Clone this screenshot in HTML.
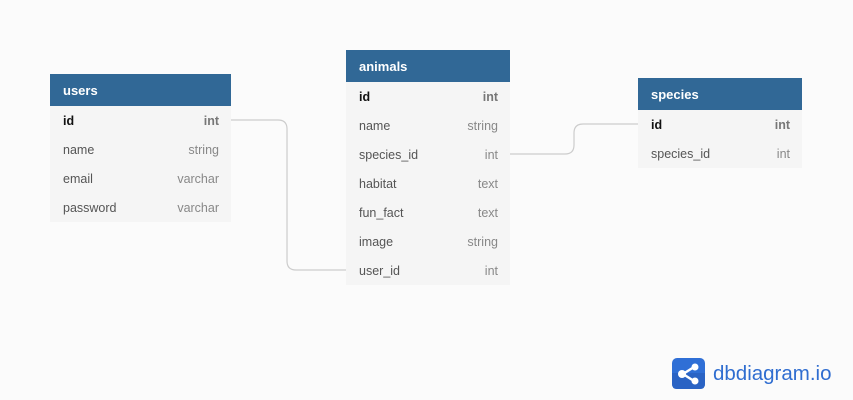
<!DOCTYPE html>
<html><head><style>
body{margin:0;width:853px;height:400px;background:#fbfbfb;font-family:"Liberation Sans",sans-serif;position:relative;overflow:hidden}
.t{position:absolute;background:#f5f5f5}
.h{background:#316896;color:#fff;font-weight:bold;font-size:13px;height:32px;line-height:33px;padding-left:13px}
.r{height:29px;line-height:31px;font-size:12.5px;color:#555;padding:0 12px 0 13px;display:flex;justify-content:space-between}
.r span:last-child{color:#888}
.r.pk span:first-child{color:#111;font-weight:bold}
.r.pk span:last-child{font-weight:bold;color:#777}
</style></head><body>
<svg width="853" height="400" style="position:absolute;left:0;top:0">
<path d="M231 120 H278 Q287 120 287 129 V261 Q287 270 296 270 H346" fill="none" stroke="#ccc" stroke-width="1.2"/>
<path d="M510 154 H565 Q574 154 574 145 V133 Q574 124 583 124 H638" fill="none" stroke="#ccc" stroke-width="1.2"/>
</svg>
<div class="t" style="left:50px;top:74px;width:181px">
<div class="h">users</div>
<div class="r pk"><span>id</span><span>int</span></div>
<div class="r"><span>name</span><span>string</span></div>
<div class="r"><span>email</span><span>varchar</span></div>
<div class="r"><span>password</span><span>varchar</span></div>
</div>
<div class="t" style="left:346px;top:50px;width:164px">
<div class="h">animals</div>
<div class="r pk"><span>id</span><span>int</span></div>
<div class="r"><span>name</span><span>string</span></div>
<div class="r"><span>species_id</span><span>int</span></div>
<div class="r"><span>habitat</span><span>text</span></div>
<div class="r"><span>fun_fact</span><span>text</span></div>
<div class="r"><span>image</span><span>string</span></div>
<div class="r"><span>user_id</span><span>int</span></div>
</div>
<div class="t" style="left:638px;top:78px;width:164px">
<div class="h">species</div>
<div class="r pk"><span>id</span><span>int</span></div>
<div class="r"><span>species_id</span><span>int</span></div>
</div>
<svg width="33" height="31" style="position:absolute;left:672px;top:358px">
<rect width="33" height="31" rx="5" fill="#2f6fd6"/>
<path d="M0 15 L33 15 L33 26 Q33 31 28 31 L5 31 Q0 31 0 26Z" fill="#2a63c4"/>
<line x1="11" y1="16" x2="22" y2="9" stroke="#fff" stroke-width="2.5"/>
<line x1="11" y1="16" x2="22" y2="23" stroke="#fff" stroke-width="2.5"/>
<circle cx="10" cy="16" r="4" fill="#fff"/><circle cx="23" cy="9" r="3.5" fill="#fff"/><circle cx="23" cy="23" r="3.5" fill="#fff"/>
</svg>
<div style="position:absolute;left:713px;top:361px;font-size:20.5px;color:#2f6dd0;line-height:26px">dbdiagram.io</div>
</body></html>
